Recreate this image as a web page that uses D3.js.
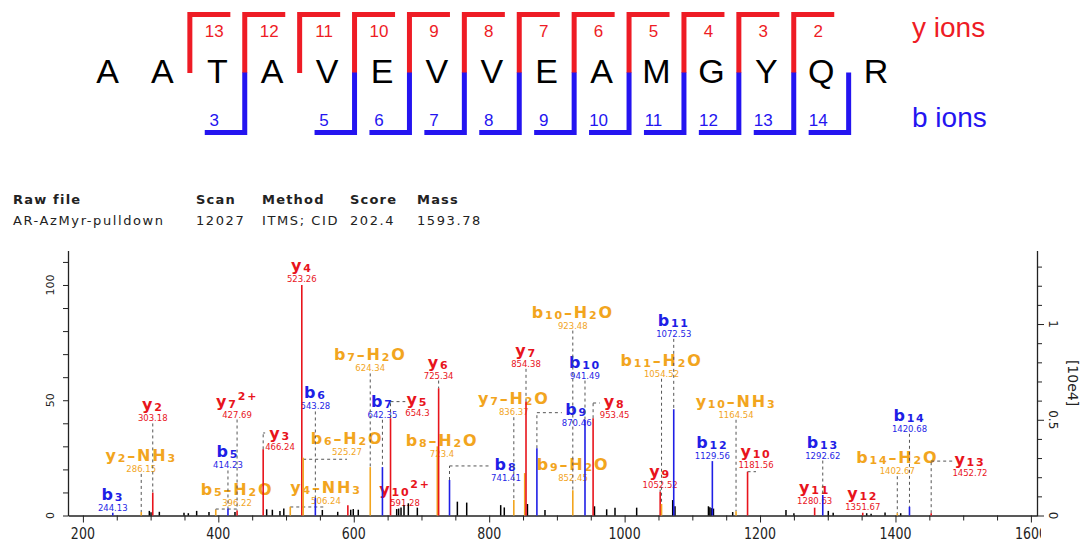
<!DOCTYPE html>
<html>
<head>
<meta charset="utf-8">
<script src="https://cdn.jsdelivr.net/npm/d3@7"></script>
<style>
  body { margin: 0; background: #fff; }
  svg { display: block; }
</style>
</head>
<body>
<svg id="chart" width="1087" height="544"></svg>
<script>
// ---------------- data ----------------
// Peptide sequence and the cleavage sites covered by y and b fragments
// (a site k lies between residue k and residue k+1, counting from 1)
const residues = ["A","A","T","A","V","E","V","V","E","A","M","G","Y","Q","R"];
const yCleavages = [2,3,4,5,6,7,8,9,10,11,12,13];
const bCleavages = [3,5,6,7,8,9,10,11,12,13,14];

// Assigned fragment peaks: name, m/z, relative intensity (%), ion family
const ionNames = ["b3","y2-NH3","y2","b5-H2O","b5","y7^2+","y3","y4-NH3","y4","b6-H2O",
  "b6","y10^2+","b7-H2O","b7","y5","b8-H2O","y6","b8","y7-H2O","b9-H2O",
  "y7","b9","b10-H2O","b10","y8","y9","b11-H2O","b11","b12","y10-NH3",
  "y10","y11","b13","y12","b14-H2O","b14","y13"];
const ionMz = [244.13,286.15,303.18,396.22,414.23,427.69,466.24,506.24,523.26,525.27,
  543.28,591.28,624.34,642.35,654.3,723.4,725.34,741.41,836.37,852.45,
  854.38,870.46,923.48,941.49,953.45,1052.52,1054.52,1072.53,1129.56,1164.54,
  1181.56,1280.63,1292.62,1351.67,1402.67,1420.68,1452.72];
const ionIntensity = [1.2,1.5,9.9,2.5,3.0,2.2,28.7,3.8,100,25,
  7.6,4.5,21,21,42.2,30,55.2,15.4,6.7,18.4,
  49.4,29.2,11,41.4,42.2,10.3,5,46.1,23.6,1.8,
  19,3.4,8.9,1.2,1.0,3.8,1.0];
const ionKind = ["b","loss","y","loss","b","y","y","loss","y","loss",
  "b","y","loss","b","y","loss","y","b","loss","loss",
  "y","b","loss","b","y","y","loss","b","b","loss",
  "y","y","b","y","loss","b","y"];

// Label placement in data units: centre m/z, level (%) of the m/z line,
// leader style (v = straight down, e = elbow, n = none) and elbow level (%)
const labelMz = [244.13,286.15,303.18,427.6,414.23,427.69,491.1,559.0,523.26,590.0,
  543.28,675.7,624.34,642.35,694.1,730.3,725.34,824.8,836.37,923.8,
  854.38,929.2,923.48,941.49,985.3,1052.52,1054.52,1072.53,1129.56,1164.54,
  1194,1280.63,1292.62,1351.67,1402.67,1420.68,1510];
const labelLevel = [2.0,18.9,40.8,4.3,20.4,42.5,28.6,5.2,101.3,26.2,
  46.0,4.3,62.5,42.4,43.0,25.2,59.4,14.9,43.5,14.9,
  64.5,38.7,81.1,59.4,42.5,12.1,60.2,77.5,24.7,42.4,
  20.4,4.9,24.7,2.3,17.9,36.3,17.0];
const labelLink = ["n","v","v","e","v","v","e","e","n","e",
  "v","n","v","v","e","v","v","e","v","n",
  "v","e","v","v","e","v","v","v","v","v",
  "e","n","v","n","v","v","e"];
const elbowLevel = [null,null,null,2.8,null,null,35.8,3.7,null,24.4,
  null,null,null,null,49.4,null,null,21.5,null,null,
  null,44.6,null,null,48.8,null,null,null,null,null,
  19,null,null,null,null,null,23.6];

// Unassigned peaks: m/z and relative intensity (%)
const otherMz = [298.1,300.6,312.9,349.3,355.7,368.0,386.2,424.6,471.4,479.8,
  491.0,496.7,553.6,576.3,595.5,599.3,606.7,663.4,666.3,669.8,
  674.2,680.6,693.9,753.0,766.8,817.0,822.3,856.5,882.4,955.5,
  973.5,985.8,1017.8,1071.0,1074.4,1123.8,1125.9,1128.0,1131.2,1159.6,
  1238.3,1250.0,1300.8,1308.0,1357.5,1364.0,1384.6,1407.7];
const otherIntensity = [2.0,1.4,1.6,1.2,1.0,2.0,1.5,1.5,2.7,2.5,
  2.0,3.0,2.4,1.6,2.5,2.8,2.5,2.8,3.0,3.5,
  4.5,5.3,3.4,6.0,5.6,4.5,3.5,5.0,2.4,4.0,
  2.7,3.4,3.4,6.7,4.0,4.0,3.6,3.2,3.0,1.5,
  2.4,1.0,2.0,1.2,1.0,0.8,1.3,1.0];

// Scan header
const headerTitles = ["Raw file","Scan","Method","Score","Mass"];
const headerValues = ["AR-AzMyr-pulldown","12027","ITMS; CID","202.4","1593.78"];

// Axes
const mzTicks = [200,400,600,800,1000,1200,1400,1600];
const relTicks = [0,50,100];
const absTicks = [0,0.5,1];
const absUnit = "[10e4]";
const absPerHundred = 1.204;   // 100 % relative intensity in units of 10e4

// ---------------- drawing ----------------
const RED = "#ee1c25", BLUE = "#2414f0";
const kindColor = { y: "#e8141c", b: "#1f1fe6", loss: "#f2a51e" };
const svg = d3.select("#chart");

// ---- peptide fragment map ----
const pep = svg.append("g");
const rx = d3.scalePoint().domain(d3.range(residues.length)).range([107.5, 876.1]);
const cut = k => (rx(k - 1) + rx(k)) / 2;

pep.selectAll("text.res").data(residues).join("text")
  .attr("class", "res")
  .attr("x", (d, i) => rx(i)).attr("y", 83)
  .attr("text-anchor", "middle")
  .attr("font-family", "Liberation Sans, Arial, sans-serif")
  .attr("font-size", 34).attr("fill", "#000")
  .text(d => d);

pep.selectAll("path.ycut").data(yCleavages).join("path")
  .attr("class", "ycut")
  .attr("d", k => `M${cut(k)},73V14.5H${cut(k) + 40.5}`)
  .attr("fill", "none").attr("stroke", RED).attr("stroke-width", 5);

pep.selectAll("path.bcut").data(bCleavages).join("path")
  .attr("class", "bcut")
  .attr("d", k => `M${cut(k)},72.5V132.5H${cut(k) - 40}`)
  .attr("fill", "none").attr("stroke", BLUE).attr("stroke-width", 5);

pep.selectAll("text.yn").data(yCleavages).join("text")
  .attr("class", "yn")
  .attr("x", k => rx(k) - 3).attr("y", 37)
  .attr("text-anchor", "middle")
  .attr("font-family", "Liberation Sans, Arial, sans-serif")
  .attr("font-size", 17).attr("fill", RED)
  .text(k => residues.length - k);

pep.selectAll("text.bn").data(bCleavages).join("text")
  .attr("class", "bn")
  .attr("x", k => rx(k - 1) - 3).attr("y", 126)
  .attr("text-anchor", "middle")
  .attr("font-family", "Liberation Sans, Arial, sans-serif")
  .attr("font-size", 17).attr("fill", BLUE)
  .text(k => k);

pep.append("text").attr("x", 912).attr("y", 37)
  .attr("font-family", "Liberation Sans, Arial, sans-serif")
  .attr("font-size", 28).attr("fill", RED).text("y ions");
pep.append("text").attr("x", 912).attr("y", 127)
  .attr("font-family", "Liberation Sans, Arial, sans-serif")
  .attr("font-size", 28).attr("fill", BLUE).text("b ions");

// ---- scan header ----
const headX = [13, 196, 262, 350, 417];
const head = svg.append("g").attr("font-family", "DejaVu Sans, Verdana, sans-serif")
  .attr("font-size", 13).attr("fill", "#222");
head.selectAll("text.ht").data(headerTitles).join("text")
  .attr("class", "ht").attr("x", (d, i) => headX[i]).attr("y", 204)
  .attr("font-weight", "bold").attr("letter-spacing", 1.2).text(d => d);
head.selectAll("text.hv").data(headerValues).join("text")
  .attr("class", "hv").attr("x", (d, i) => headX[i]).attr("y", 225)
  .attr("letter-spacing", 1.6).text(d => d);

// ---- spectrum ----
const x = d3.scaleLinear().domain([178, 1609]).range([68, 1037]);
const y = d3.scaleLinear().domain([0, 115]).range([515.5, 250.4]);
const yAbs = d3.scaleLinear().domain([0, 1.15 * absPerHundred]).range([515.5, 250.4]);

const axisFont = "DejaVu Sans, Verdana, sans-serif";

// x axis
const xAxis = svg.append("g").attr("transform", `translate(0,${y(0)})`)
  .call(d3.axisBottom(x).tickValues(d3.range(200, 1601, 50))
    .tickSize(5).tickSizeOuter(0).tickFormat(""));
xAxis.select(".domain").attr("stroke", "#222").attr("stroke-width", 1.3);
xAxis.selectAll(".tick line").attr("stroke", "#222")
  .attr("y2", d => (mzTicks.includes(d) ? 7 : 5));

svg.append("clipPath").attr("id", "xlabClip")
  .append("rect").attr("x", 0).attr("y", 516).attr("width", 1041).attr("height", 30);
svg.append("g").attr("clip-path", "url(#xlabClip)")
  .selectAll("text").data(mzTicks).join("text")
  .attr("transform", d => `translate(${x(d)},539) scale(0.84,1)`)
  .attr("text-anchor", "middle")
  .attr("font-family", axisFont).attr("font-size", 15).attr("fill", "#222")
  .text(d => d);

// left axis (relative intensity)
const yAxis = svg.append("g").attr("transform", `translate(${x.range()[0]},0)`)
  .call(d3.axisLeft(y).tickValues(d3.range(0, 111, 10))
    .tickSize(5).tickSizeOuter(0).tickFormat(""));
yAxis.select(".domain").attr("stroke", "#222").attr("stroke-width", 1.3);
yAxis.selectAll(".tick line").attr("stroke", "#222");
svg.append("g").selectAll("text").data(relTicks).join("text")
  .attr("transform", d => `translate(53.5,${y(d)}) rotate(-90)`)
  .attr("text-anchor", "middle")
  .attr("font-family", axisFont).attr("font-size", 11).attr("fill", "#222")
  .text(d => d);

// right axis (absolute intensity)
const rAxis = svg.append("g").attr("transform", `translate(${x.range()[1]},0)`)
  .call(d3.axisRight(yAbs).tickValues(d3.range(0, 1.31, 0.1))
    .tickSize(5).tickSizeOuter(0).tickFormat(""));
rAxis.select(".domain").attr("stroke", "#222").attr("stroke-width", 1.3);
rAxis.selectAll(".tick line").attr("stroke", "#222")
  .attr("x2", (d, i) => (i % 5 === 0 ? 7 : 5));
svg.append("g").selectAll("text").data(absTicks).join("text")
  .attr("transform", d => `translate(1049,${yAbs(d)}) rotate(90)`)
  .attr("text-anchor", "middle")
  .attr("font-family", axisFont).attr("font-size", 12).attr("fill", "#222")
  .text(d => d);
svg.append("text")
  .attr("transform", "translate(1068,383) rotate(90)")
  .attr("text-anchor", "middle")
  .attr("font-family", axisFont).attr("font-size", 14).attr("fill", "#222")
  .text(absUnit);

// ion labels: family letter in bold, indices and counts set smaller
function writeIon(textSel, name) {
  const re = /(\^2\+)|(\d+)|([^\d^]+)/g;
  let m, level = 0;
  while ((m = re.exec(name))) {
    let txt, size, target;
    if (m[1]) { txt = "2+"; size = 11; target = -7; }
    else if (m[2]) { txt = m[2]; size = 11; target = 1; }
    else { txt = m[3].replace("-", "\u2013"); size = 16; target = 0; }
    textSel.append("tspan").attr("dy", target - level).attr("font-size", size).text(txt);
    level = target;
  }
}

const ions = ionNames.map((n, i) => ({
  name: n, mz: ionMz[i], inten: ionIntensity[i], kind: ionKind[i],
  lmz: labelMz[i], lvl: labelLevel[i], link: labelLink[i], elbow: elbowLevel[i]
}));

const labelLayer = svg.append("g");
const linkLayer = svg.append("g").attr("stroke", "#555").attr("stroke-width", 1)
  .attr("stroke-dasharray", "3,3").attr("fill", "none");
const peakLayer = svg.append("g");

ions.forEach(d => {
  const g = labelLayer.append("g");
  const cx = x(d.lmz), base = y(d.lvl);
  const nameText = g.append("text").attr("x", cx).attr("y", base - 11)
    .attr("text-anchor", "middle")
    .attr("font-family", axisFont).attr("font-weight", "bold")
    .attr("letter-spacing", 1.8).attr("fill", kindColor[d.kind]);
  writeIon(nameText, d.name);
  g.append("text").attr("x", cx).attr("y", base)
    .attr("text-anchor", "middle")
    .attr("font-family", axisFont).attr("font-size", 8.5)
    .attr("fill", kindColor[d.kind])
    .text(d.mz);
  const bb = g.node().getBBox();
  const px = x(d.mz), top = y(d.inten), bottom = base + 2;
  if (d.link === "v") {
    if (bottom < top - 1) {
      linkLayer.append("line").attr("x1", px).attr("x2", px)
        .attr("y1", bottom).attr("y2", top);
    }
  } else if (d.link === "e") {
    const ey = y(d.elbow);
    if (ey < top) {
      linkLayer.append("line").attr("x1", px).attr("x2", px)
        .attr("y1", top).attr("y2", ey);
    }
    let ex = cx;
    if (ey >= bb.y && ey <= bb.y + bb.height) {
      ex = px < cx ? bb.x : bb.x + bb.width;
    }
    linkLayer.append("line").attr("x1", px).attr("x2", ex)
      .attr("y1", ey).attr("y2", ey);
  }
});

// unassigned peaks
peakLayer.selectAll("line.other").data(otherMz).join("line")
  .attr("class", "other")
  .attr("x1", d => x(d)).attr("x2", d => x(d))
  .attr("y1", y(0)).attr("y2", (d, i) => y(otherIntensity[i]))
  .attr("stroke", "#000").attr("stroke-width", 1.5);

// assigned peaks
peakLayer.selectAll("line.ion").data(ions).join("line")
  .attr("class", "ion")
  .attr("x1", d => x(d.mz)).attr("x2", d => x(d.mz))
  .attr("y1", y(0)).attr("y2", d => y(d.inten))
  .attr("stroke", d => kindColor[d.kind]).attr("stroke-width", 1.6);
</script>
</body>
</html>
